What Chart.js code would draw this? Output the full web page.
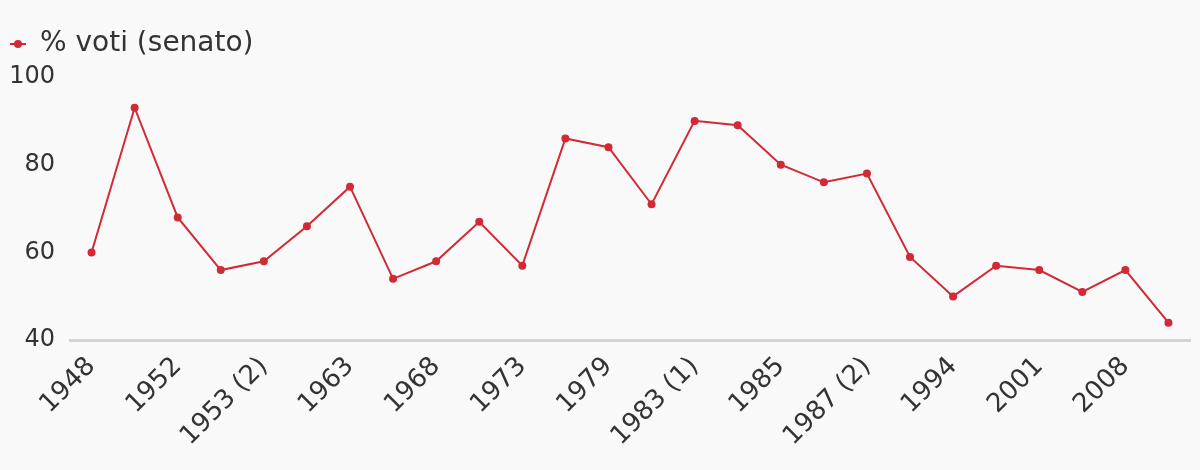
<!DOCTYPE html>
<html>
<head>
<meta charset="utf-8">
<script src="https://cdn.jsdelivr.net/npm/chart.js@4/dist/chart.umd.min.js"></script>
<style>
    html, body { margin: 0; padding: 0; background: #f9f9f9; }
    #wrap { width: 1200px; height: 470px; }
</style>
</head>
<body>
<div id="wrap"><canvas id="grafico"></canvas></div>
<script>
var anni = ["1948", "1950", "1952", "1953 (1)", "1953 (2)", "1958", "1963", "1964", "1968", "1970",
    "1973", "1976", "1979", "1980", "1983 (1)", "1983 (2)", "1985", "1987 (1)", "1987 (2)", "1992",
    "1994", "1996", "2001", "2006", "2008", "2013"];
var votiSenato = [60, 93, 68, 56, 58, 66, 75, 54, 58, 67,
    57, 86, 84, 71, 90, 89, 80, 76, 78, 59,
    50, 57, 56, 51, 56, 44];
var tickY = [40, 60, 80, 100];

var rosso = "#d12a35";

// simbolo legenda: linea con punto
var simbolo = document.createElement("canvas");
simbolo.width = 16;
simbolo.height = 10;
var sctx = simbolo.getContext("2d");
sctx.strokeStyle = rosso;
sctx.lineWidth = 2;
sctx.beginPath();
sctx.moveTo(0, 5);
sctx.lineTo(16, 5);
sctx.stroke();
sctx.fillStyle = rosso;
sctx.beginPath();
sctx.arc(8, 5, 4, 0, Math.PI * 2);
sctx.fill();

// spazio extra sotto la legenda
var spazioLegenda = {
    id: "spazioLegenda",
    beforeInit: function (chart) {
        var fitOrig = chart.legend.fit;
        chart.legend.fit = function () {
            fitOrig.bind(chart.legend)();
            this.height += 9;
        };
    }
};

var ctx = document.getElementById("grafico").getContext("2d");

var grafico = new Chart(ctx, {
    type: "line",
    data: {
        labels: anni,
        datasets: [
            {
                label: "% voti (senato)",
                data: votiSenato,
                borderColor: rosso,
                backgroundColor: rosso,
                borderWidth: 2,
                pointRadius: 4,
                pointBackgroundColor: rosso,
                pointBorderWidth: 0,
                tension: 0
            }
        ]
    },
    plugins: [spazioLegenda],
    options: {
        responsive: true,
        maintainAspectRatio: false,
        animation: false,
        layout: {
            padding: { left: 10, right: 10, top: 30, bottom: 15 }
        },
        plugins: {
            legend: {
                align: "start",
                labels: {
                    usePointStyle: true,
                    boxWidth: 16,
                    color: "#333333",
                    font: { family: "DejaVu Sans", size: 28 },
                    padding: 0,
                    generateLabels: function (chart) {
                        return chart.data.datasets.map(function (ds, i) {
                            return {
                                text: ds.label,
                                pointStyle: simbolo,
                                fillStyle: rosso,
                                strokeStyle: rosso,
                                fontColor: "#333333",
                                datasetIndex: i
                            };
                        });
                    }
                }
            },
            tooltip: { enabled: false }
        },
        scales: {
            x: {
                offset: true,
                grid: { display: false },
                border: { display: true, color: "#d3d3d3", width: 3 },
                ticks: {
                    color: "#333333",
                    font: { family: "DejaVu Sans", size: 26 },
                    maxRotation: 45,
                    minRotation: 45,
                    autoSkip: true
                }
            },
            y: {
                min: 40,
                max: 100,
                grid: { display: false, drawTicks: false },
                border: { display: false },
                afterBuildTicks: function (axis) {
                    axis.ticks = tickY.map(function (v) { return { value: v }; });
                },
                afterFit: function (axis) {
                    axis.width = 60;
                },
                ticks: {
                    color: "#333333",
                    font: { family: "DejaVu Sans", size: 24 },
                    padding: 15
                }
            }
        }
    }
});
</script>
</body>
</html>
